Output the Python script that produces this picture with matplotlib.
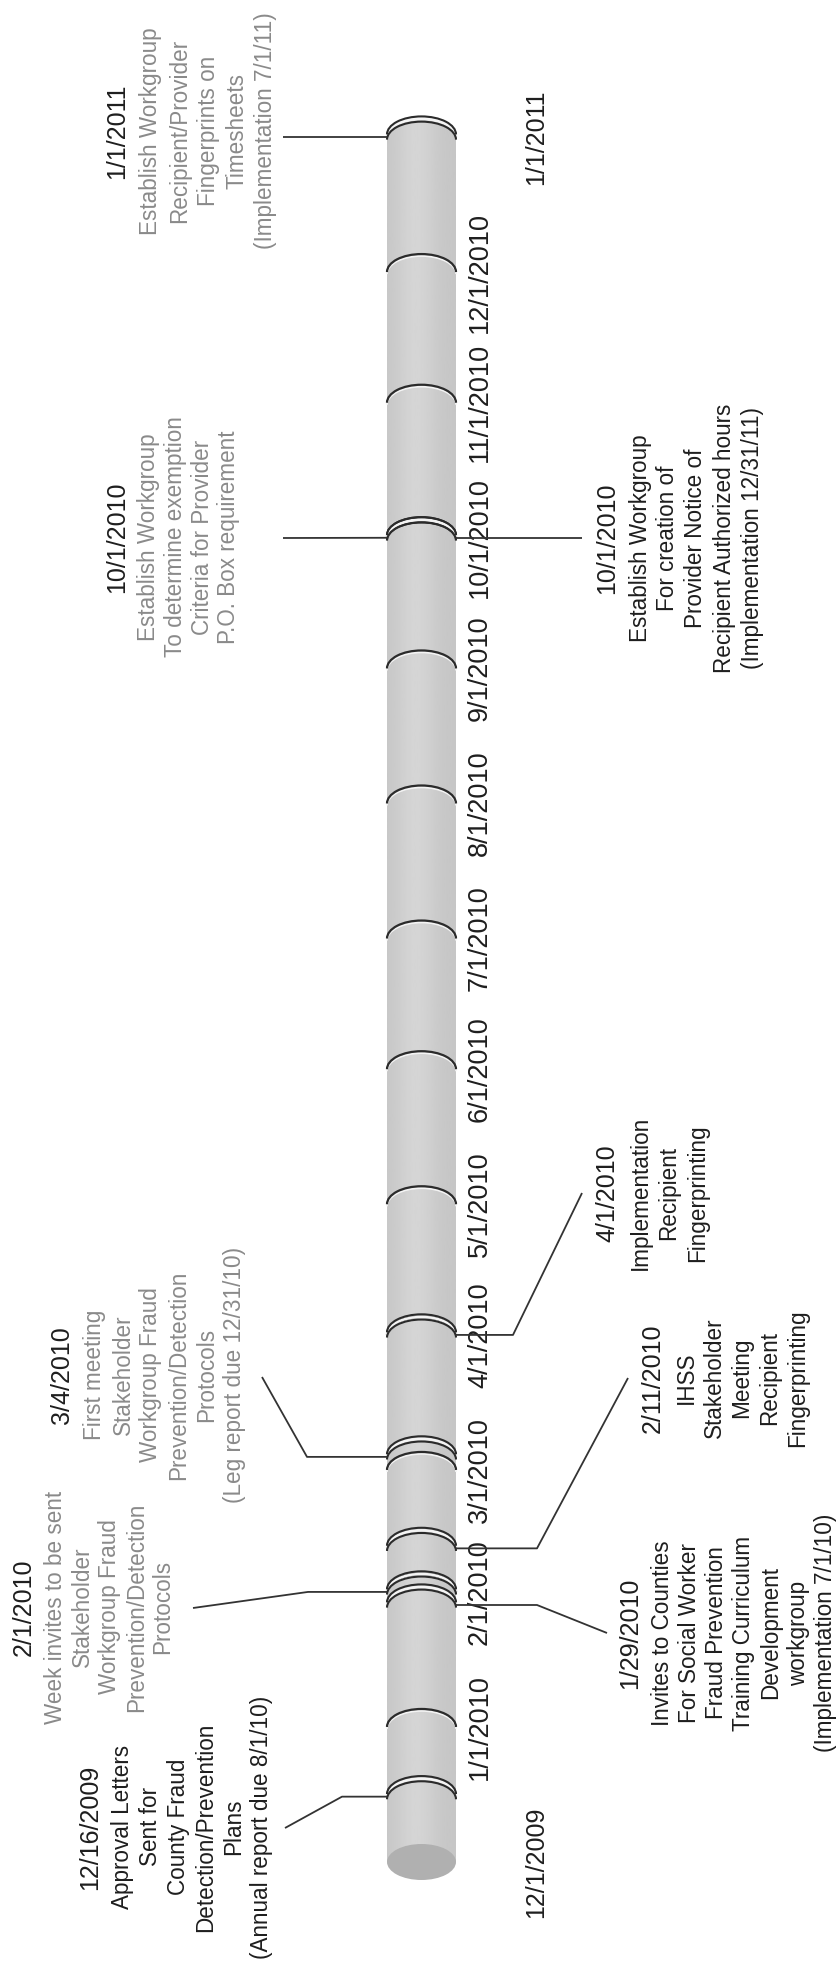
import numpy as np
import matplotlib
matplotlib.use("Agg")
import matplotlib.pyplot as plt
import matplotlib.dates as mdates
from matplotlib.patches import Arc, Ellipse, PathPatch
from matplotlib.path import Path
from matplotlib import font_manager

# ---- data ----
start_date = "2009-12-01"
end_date = "2011-01-01"
start_label = "12/1/2009"
end_label = "1/1/2011"

month_dates = ["2010-01-01", "2010-02-01", "2010-03-01", "2010-04-01", "2010-05-01", "2010-06-01",
               "2010-07-01", "2010-08-01", "2010-09-01", "2010-10-01", "2010-11-01", "2010-12-01"]
month_labels = ["1/1/2010", "2/1/2010", "3/1/2010", "4/1/2010", "5/1/2010", "6/1/2010",
                "7/1/2010", "8/1/2010", "9/1/2010", "10/1/2010", "11/1/2010", "12/1/2010"]

event_dates = ["2009-12-16", "2010-01-29", "2010-02-01", "2010-02-11", "2010-03-04",
               "2010-04-01", "2010-10-01", "2010-10-01", "2011-01-01"]
event_titles = ["12/16/2009", "1/29/2010", "2/1/2010", "2/11/2010", "3/4/2010",
                "4/1/2010", "10/1/2010", "10/1/2010", "1/1/2011"]
event_texts = [
    ["Approval Letters", "Sent for", "County Fraud", "Detection/Prevention", "Plans",
     "(Annual report due 8/1/10)"],
    ["Invites to Counties", "For Social Worker", "Fraud Prevention", "Training Curriculum",
     "Development", "workgroup", "(Implementation 7/1/10)"],
    ["Week invites to be sent", "Stakeholder", "Workgroup Fraud", "Prevention/Detection",
     "Protocols"],
    ["IHSS", "Stakeholder", "Meeting", "Recipient", "Fingerprinting"],
    ["First meeting", "Stakeholder", "Workgroup Fraud", "Prevention/Detection", "Protocols",
     "(Leg report due 12/31/10)"],
    ["Implementation", "Recipient", "Fingerprinting"],
    ["Establish Workgroup", "To determine exemption", "Criteria for Provider",
     "P.O. Box requirement"],
    ["Establish Workgroup", "For creation of", "Provider Notice of",
     "Recipient Authorized hours", "(Implementation 12/31/11)"],
    ["Establish Workgroup", "Recipient/Provider", "Fingerprints on", "Timesheets",
     "(Implementation 7/1/11)"],
]
event_grey = [False, False, True, False, True, False, True, False, True]

# ---- layout (pixels) ----
W, H = 840, 1963
PX_PER_DAY = 4.356
START_ROW = 1862          # pixel row of the start date
CYL_X0, CYL_X1 = 387, 456
CAP_PX = 18               # half height of the ring ellipses

# per event: first line x, block centre row, kink x, end point (row None = level), line pitch
layout = [
    (90, 1827, 342, (285, 1828), 27.7),
    (630, 1633, 537, (607, 1633), 27.2),
    (24, 1607, 308, (193, 1608), 26.8),
    (653, 1378, 537, (628, 1378), 28.0),
    (62, 1375, 307, (262, 1377), 28.0),
    (607, 1193, 513, (582, 1193), 28.5),
    (117, 537, None, (283, 538), 26.7),
    (607, 538, None, (582, None), 28.0),
    (117, 131, None, (283, None), 28.7),
]


def has_font(name):
    try:
        font_manager.findfont(font_manager.FontProperties(family=name), fallback_to_default=False)
        return True
    except ValueError:
        return False


if has_font("Liberation Sans Narrow"):
    ev_family, shrink = ["Liberation Sans Narrow", "DejaVu Sans"], 1.0
else:
    ev_family, shrink = ["Liberation Sans", "DejaVu Sans"], 0.82
tick_family = ["Liberation Sans", "DejaVu Sans"]

d0 = mdates.datestr2num(start_date)
d1 = mdates.datestr2num(end_date)


def row(p):
    """pixel row -> date number"""
    return d0 + (START_ROW - p) / PX_PER_DAY


fig = plt.figure(figsize=(W / 100, H / 100), dpi=100)
ax = fig.add_axes([0, 0, 1, 1])
ax.set_xlim(0, W)
ax.set_ylim(row(H), row(0))
ax.axis("off")

xc = (CYL_X0 + CYL_X1) / 2
cw = CYL_X1 - CYL_X0
ch = 2 * CAP_PX / PX_PER_DAY

# cylinder body: rectangle with rounded (half ellipse) top
t = np.linspace(0, np.pi, 60)
top_x = xc + cw / 2 * np.cos(t)
top_y = d1 + ch / 2 * np.sin(t)
verts = [(CYL_X0, d0), (CYL_X1, d0)] + list(zip(top_x, top_y)) + [(CYL_X0, d0)]
body = PathPatch(Path(verts, closed=True), facecolor="none", edgecolor="none")
ax.add_patch(body)
u = np.linspace(0, 1, 80)
shade = 0.775 + 0.06 * np.exp(-((u - 0.42) / 0.3) ** 2)
img = ax.imshow(np.tile(shade, (2, 1)), cmap="gray", vmin=0, vmax=1, aspect="auto",
                extent=[CYL_X0, CYL_X1, d0, d1 + ch], origin="lower", zorder=1)
img.set_clip_path(body)
ax.add_patch(Ellipse((xc, d0), cw, ch, facecolor="#b0b0b0", edgecolor="none", zorder=2))


def ring(y, color, lw):
    ax.add_patch(Arc((xc, y), cw, ch, theta1=0, theta2=180, color=color, lw=lw, zorder=3))


# month rings
for m in month_dates:
    y = mdates.datestr2num(m)
    ring(y - 2 / PX_PER_DAY, "#f4f4f4", 1.2)
    ring(y, "#2b2b2b", 1.6)

# event rings (double line)
for e in event_dates:
    y = mdates.datestr2num(e)
    ring(y, "#f4f4f4", 1.8)
    ring(y + 2.6 / PX_PER_DAY, "#2b2b2b", 1.5)
    ring(y - 2.6 / PX_PER_DAY, "#2b2b2b", 1.5)

# month tick labels
for m, lab in zip(month_dates, month_labels):
    ax.text(480, mdates.datestr2num(m), lab, rotation=90, ha="center", va="center",
            fontsize=19.5, family=tick_family, color="#1e1e1e")
ax.text(536, d0, start_label, rotation=90, ha="center", va="center",
        fontsize=18, family=tick_family, color="#1e1e1e")
ax.text(536, d1, end_label, rotation=90, ha="center", va="center",
        fontsize=18, family=tick_family, color="#1e1e1e")

# leaders and event text
for e, title, lines, grey, lay in zip(event_dates, event_titles, event_texts, event_grey, layout):
    x_first, yc, kink, end, pitch = lay
    y = mdates.datestr2num(e)
    edge = CYL_X0 if end[0] < xc else CYL_X1
    xs, ys = [edge], [y]
    if kink is not None:
        xs.append(kink)
        ys.append(y)
    xs.append(end[0])
    ys.append(y if end[1] is None else row(end[1]))
    ax.plot(xs, ys, color="#333333", lw=1.3, zorder=3, solid_capstyle="butt")

    ax.text(x_first, row(yc), title, rotation=90, ha="center", va="center",
            fontsize=22 * shrink, family=ev_family, color="#1e1e1e")
    col = "#8a8a8a" if grey else "#1e1e1e"
    x0 = x_first + (pitch + 5)
    for i, ln in enumerate(lines):
        ax.text(x0 + i * pitch, row(yc), ln, rotation=90, ha="center", va="center",
                fontsize=19.8 * shrink, family=ev_family, color=col)

fig.savefig("out.png", dpi=100, facecolor="white")
